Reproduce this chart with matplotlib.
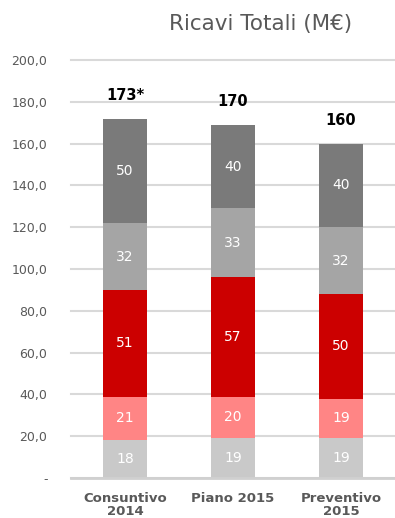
import numpy as np
from matplotlib import pyplot as plt

categories = ['Consuntivo\n2014', 'Piano 2015', 'Preventivo\n2015']
seg1 = [18, 19, 19]
seg2 = [21, 20, 19]
seg3 = [51, 57, 50]
seg4 = [32, 33, 32]
seg5 = [50, 40, 40]
totals = ['173*', '170', '160']

series = [seg1, seg2, seg3, seg4, seg5]
colors = ['#c9c9c9', '#ff8585', '#cc0000', '#a5a5a5', '#7a7a7a']

fig = plt.figure(figsize=(3.95, 5.18), dpi=100)
ax = fig.add_axes([0.18, 0.0772, 0.82, 0.8068])

x = np.arange(len(categories))
bottom = np.zeros(len(categories))
for vals, col in zip(series, colors):
    ax.bar(x, vals, 0.4, bottom=bottom, color=col, zorder=2)
    for xi, b, v in zip(x, bottom, vals):
        ax.text(xi, b + v / 2, str(v), ha='center', va='center',
                color='white', fontsize=10, zorder=3)
    bottom += np.array(vals)

for xi, top, lab in zip(x, bottom, totals):
    ax.text(xi, top + 11, lab, ha='center', va='center',
            fontsize=10.5, fontweight='bold', color='black')

ax.set_xlim(-0.5, 2.5)
ax.set_ylim(0, 200)
ax.set_yticks(np.arange(0, 201, 20))
ax.set_yticklabels(['-'] + ['%d,0' % v for v in range(20, 201, 20)])
ax.set_xticks(x)
ax.set_xticklabels(categories, fontweight='bold', fontsize=9.5, linespacing=1.0)
ax.tick_params(axis='y', length=0, pad=17, labelsize=9, labelcolor='#595959')
ax.tick_params(axis='x', length=0, pad=10, labelcolor='#595959')

ax.grid(axis='y', color='#d9d9d9', linewidth=1.5, zorder=0)
for line in ax.get_ygridlines():
    line.set_clip_on(False)
for s in ['top', 'right', 'left']:
    ax.spines[s].set_visible(False)
ax.spines['bottom'].set_color('#d0d0d0')
ax.spines['bottom'].set_linewidth(2)

fig.text(0.66, 0.953, 'Ricavi Totali (M€)', ha='center', va='center',
         fontsize=15.5, color='#595959')

plt.savefig('out.png')
